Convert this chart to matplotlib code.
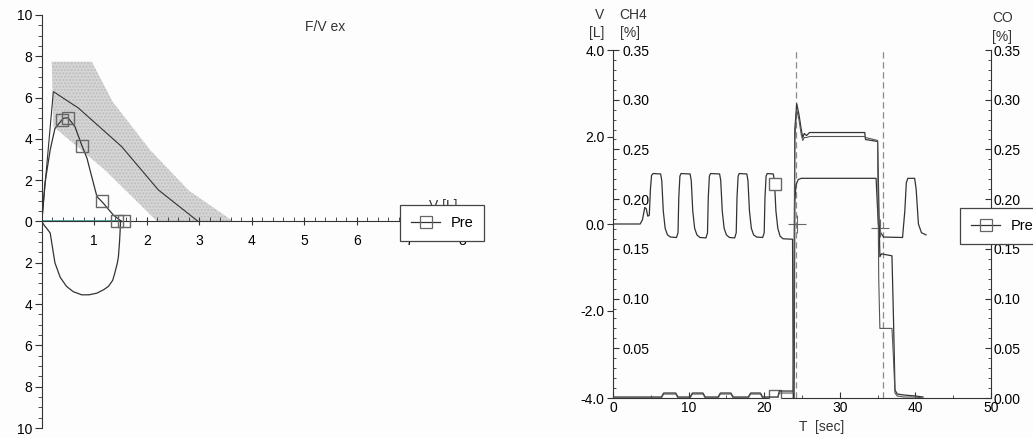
import matplotlib
matplotlib.use('Agg')
import matplotlib.pyplot as plt
from matplotlib.lines import Line2D
from matplotlib.ticker import MultipleLocator, FixedLocator

plt.rcParams['font.family'] = ['Liberation Sans', 'DejaVu Sans']
plt.rcParams['font.size'] = 10

W, H = 1033, 438
INK = '#333333'
GRAY = '#666666'

# ---- flow / volume loop (expiration up, inspiration down) ----
pred_vol = [0.0, 0.22, 0.70, 1.52, 2.22, 2.98]
pred_flow = [0.0, 6.29, 5.49, 3.63, 1.53, 0.0]

band_up_vol = [0.19, 0.95, 1.35, 2.06, 2.80, 3.65]
band_up_flow = [7.74, 7.74, 5.80, 3.47, 1.50, 0.0]
band_lo_vol = [2.20, 1.20, 0.22]
band_lo_flow = [0.0, 2.50, 4.60]

ex_vol = [0.0, 0.06, 0.16, 0.25, 0.41, 0.50, 0.63, 0.76, 0.86, 0.95, 1.05, 1.17, 1.36, 1.52]
ex_flow = [0.0, 1.86, 3.47, 4.50, 5.00, 5.02, 4.60, 3.70, 3.07, 2.18, 1.21, 0.89, 0.32, 0.0]

in_vol = [0.0, 0.05, 0.09, 0.16, 0.20, 0.25, 0.35, 0.47, 0.60, 0.76, 0.90, 1.05,
          1.18, 1.27, 1.35, 1.39, 1.44, 1.46, 1.48, 1.49, 1.50]
in_flow = [0.0, -0.20, -0.32, -0.56, -1.20, -2.00, -2.70, -3.14, -3.40, -3.55, -3.55, -3.47,
           -3.30, -3.14, -2.85, -2.50, -2.00, -1.69, -1.00, -0.56, 0.0]

sq_vol = [0.38, 0.50, 0.76, 1.14, 1.44, 1.56]
sq_flow = [4.90, 5.00, 3.68, 1.00, 0.0, 0.0]

fv_yticks = [-10, -8, -6, -4, -2, 0, 2, 4, 6, 8, 10]
fv_ylabels = ['10', '8', '6', '4', '2', '0', '2', '4', '6', '8', '10']
fv_xticks = [1, 2, 3, 4, 5, 6, 7, 8]

# ---- single breath trace ----
t_vol = [0.0, 3.6, 3.9, 4.2, 4.4, 4.6, 4.8, 4.95, 5.1, 5.3,
         6.3, 6.45, 6.65, 6.9, 7.2, 7.6, 8.4, 8.6, 8.7, 8.85, 9.0,
         10.2, 10.35, 10.55, 10.8, 11.1, 11.5, 12.3, 12.5, 12.6, 12.75, 12.9,
         14.1, 14.25, 14.45, 14.7, 15.0, 15.4, 16.1, 16.3, 16.4, 16.55, 16.7,
         17.7, 17.85, 18.05, 18.3, 18.6, 19.0, 19.8, 20.0, 20.1, 20.25, 20.4,
         21.2, 21.35, 21.55, 21.8, 22.1, 22.5, 23.75, 23.85, 23.95, 24.05, 24.2, 24.5, 24.9,
         34.8, 34.95, 35.1, 35.4, 35.8, 38.3, 38.6, 38.8, 39.0, 39.9, 40.1, 40.4, 40.8, 41.4]
vol = [0.0, 0.0, 0.10, 0.38, 0.35, 0.18, 0.20, 0.80, 1.12, 1.16,
       1.15, 1.00, 0.30, -0.10, -0.25, -0.30, -0.31, -0.20, 0.60, 1.10, 1.16,
       1.15, 1.00, 0.30, -0.10, -0.25, -0.31, -0.32, -0.20, 0.60, 1.10, 1.16,
       1.15, 1.00, 0.30, -0.10, -0.25, -0.31, -0.32, -0.20, 0.60, 1.10, 1.16,
       1.15, 1.00, 0.30, -0.10, -0.25, -0.30, -0.31, -0.20, 0.60, 1.10, 1.16,
       1.15, 1.00, 0.30, -0.10, -0.28, -0.34, -0.35, -4.30, -4.30, 0.50, 0.90, 1.02, 1.05,
       1.05, 0.50, 0.0, -0.20, -0.30, -0.31, 0.30, 0.95, 1.05, 1.05, 0.80, 0.0, -0.20, -0.25]

t_gas = [0.0, 6.4, 6.7, 8.3, 8.6, 10.2, 10.5, 11.9, 12.2, 13.9, 14.2, 15.6, 15.9,
         17.9, 18.2, 19.5, 19.8, 21.8, 22.0, 23.85, 23.95, 24.05, 24.3, 24.6, 24.9, 25.1, 25.3,
         25.6, 26.0, 33.3, 33.4, 35.0, 35.15, 35.3, 35.5, 36.9, 37.1, 37.3, 37.6, 38.5, 40.0, 41.0]
ch4 = [0.001, 0.001, 0.005, 0.005, 0.001, 0.001, 0.005, 0.005, 0.001, 0.001, 0.005, 0.005, 0.001,
       0.001, 0.005, 0.005, 0.001, 0.001, 0.007, 0.007, 0.10, 0.27, 0.296, 0.285, 0.270, 0.262, 0.266,
       0.264, 0.267, 0.267, 0.260, 0.258, 0.20, 0.142, 0.145, 0.143, 0.08, 0.008, 0.004, 0.003, 0.002, 0.001]
co = [0.0, 0.0, 0.004, 0.004, 0.0, 0.0, 0.004, 0.004, 0.0, 0.0, 0.004, 0.004, 0.0,
      0.0, 0.004, 0.004, 0.0, 0.0, 0.005, 0.005, 0.09, 0.26, 0.290, 0.280, 0.265, 0.259, 0.262,
      0.262, 0.263, 0.263, 0.262, 0.259, 0.12, 0.070, 0.070, 0.070, 0.04, 0.005, 0.002, 0.001, 0.001, 0.0]

breath_marks = [24.25, 35.7]
plus_t = [24.3, 35.3]
plus_v = [0.0, -0.1]
pre_t = [21.4, 21.4]
pre_v = [0.92, -3.95]

v_ticks = [-4.0, -2.0, 0.0, 2.0, 4.0]
ch4_ticks = [0.05, 0.10, 0.15, 0.20, 0.25, 0.30, 0.35]
co_ticks = [0.0, 0.05, 0.10, 0.15, 0.20, 0.25, 0.30, 0.35]


def fx(px):
    return px / W


def fy(py):
    return 1 - py / H


def pre_legend(fig, px, py):
    handle = Line2D([], [], color=INK, lw=0.9, marker='s', ms=8, mfc='none', mec=GRAY, mew=0.9)
    leg = fig.legend([handle], ['Pre'], loc='upper left', bbox_to_anchor=(fx(px), fy(py)),
                     borderaxespad=0, frameon=True, fancybox=False, framealpha=1,
                     edgecolor='#444444', handlelength=2.0, borderpad=0.75,
                     handletextpad=0.7, fontsize=10.5)
    leg.get_frame().set_linewidth(0.9)
    leg.set_zorder(10)
    return leg


def draw_flow_volume(fig):
    ax = fig.add_axes([fx(41.8), fy(428), 420 / W, 413 / H])
    ax.set_xlim(0, 8)
    ax.set_ylim(-10, 10)
    ax.set_facecolor('none')

    band_v = band_up_vol + band_lo_vol
    band_f = band_up_flow + band_lo_flow
    ax.fill(band_v, band_f, color='#d6d6d6', lw=0, zorder=1)
    ax.fill(band_v, band_f, facecolor='none', hatch='.....', edgecolor='#bdbdbd', lw=0, zorder=1)

    ax.plot([0, 1.5], [0, 0], color='#3a9a9a', lw=1.2, zorder=2)
    ax.plot(pred_vol, pred_flow, color=INK, lw=0.8, zorder=3)
    ax.plot(ex_vol, ex_flow, color=INK, lw=0.9, zorder=3)
    ax.plot(in_vol, in_flow, color=INK, lw=0.9, zorder=3)
    ax.plot(sq_vol, sq_flow, ls='none', marker='s', ms=8.5, mfc='none', mec=GRAY, mew=1.0, zorder=4)

    ax.spines['top'].set_visible(False)
    ax.spines['right'].set_visible(False)
    ax.spines['bottom'].set_position(('data', 0))
    ax.spines['left'].set_color(INK)
    ax.spines['bottom'].set_color(INK)

    ax.set_yticks(fv_yticks)
    ax.set_yticklabels(fv_ylabels)
    ax.yaxis.set_minor_locator(MultipleLocator(0.5))
    ax.set_xticks(fv_xticks)
    ax.xaxis.set_minor_locator(MultipleLocator(0.2))
    ax.tick_params(axis='y', which='major', direction='out', length=5, color=INK, labelsize=10, pad=2)
    ax.tick_params(axis='y', which='minor', direction='out', length=3, color=INK)
    ax.tick_params(axis='x', which='major', direction='inout', length=6, color=INK, labelsize=10, pad=6)
    ax.tick_params(axis='x', which='minor', direction='in', length=3, color=INK)

    # axis name sits behind the legend box
    ax.text(7.64, 0.75, 'V [L]', ha='center', va='center', fontsize=10, color=INK, zorder=2)
    fig.text(fx(325), fy(27), 'F/V ex', ha='center', va='center', fontsize=10, color=INK)

    pre_legend(fig, 400, 205)


def draw_breath(fig):
    left, right, top, bottom = 613, 991, 50, 398
    axv = fig.add_axes([fx(left), fy(bottom), (right - left) / W, (bottom - top) / H])
    axv.set_xlim(0, 50)
    axv.set_ylim(-4, 4)
    axv.set_facecolor('none')

    axg = axv.twinx()
    axg.set_ylim(0, 0.35)
    axc = axv.twinx()
    axc.set_ylim(0, 0.35)

    for t in breath_marks:
        axv.axvline(t, ymax=1.0, color='#8a8a8a', lw=0.9, ls=(0, (5, 3)), zorder=1)
    axv.plot(t_vol, vol, color=INK, lw=0.9, zorder=3)
    axv.plot(plus_t, plus_v, ls='none', marker='+', ms=13, mew=0.8, color=GRAY, zorder=4)
    axv.plot(pre_t, pre_v, ls='none', marker='s', ms=8.5, mfc='white', mec=GRAY, mew=1.0, zorder=5)
    axg.plot(t_gas, ch4, color=INK, lw=0.9)
    axg.plot(t_gas, co, color='#555555', lw=0.8)

    for a in (axv, axg, axc):
        for s in a.spines.values():
            s.set_visible(False)
            s.set_color(INK)
    axv.spines['left'].set_visible(True)
    axv.spines['bottom'].set_visible(True)
    axg.spines['right'].set_visible(True)

    axv.yaxis.set_major_locator(FixedLocator(v_ticks))
    axv.set_yticklabels(['%.1f' % v for v in v_ticks])
    axv.tick_params(axis='y', direction='out', length=4, color=INK, labelsize=10, pad=2)
    axv.xaxis.set_major_locator(MultipleLocator(10))
    axv.xaxis.set_minor_locator(MultipleLocator(5))
    axv.tick_params(axis='x', which='major', direction='in', length=4, color=INK, labelsize=10, pad=2)
    axv.tick_params(axis='x', which='minor', direction='in', length=2.5, color=INK)

    # CH4 scale shares the left spine, labels sit on its inner side
    axc.yaxis.tick_left()
    axc.yaxis.set_major_locator(FixedLocator(ch4_ticks))
    axc.set_yticklabels(['%.2f' % v for v in ch4_ticks])
    axc.yaxis.set_minor_locator(MultipleLocator(0.01))
    axc.tick_params(axis='y', which='major', direction='in', length=4, color=INK, labelsize=10, pad=-7)
    axc.tick_params(axis='y', which='minor', direction='in', length=2.5, color=INK)
    for lab in axc.get_yticklabels():
        lab.set_horizontalalignment('left')

    axg.yaxis.set_major_locator(FixedLocator(co_ticks))
    axg.set_yticklabels(['%.2f' % v for v in co_ticks])
    axg.yaxis.set_minor_locator(MultipleLocator(0.01))
    axg.tick_params(axis='y', which='major', direction='in', length=4, color=INK, labelsize=10, pad=2)
    axg.tick_params(axis='y', which='minor', direction='in', length=2.5, color=INK)

    fig.text(fx(600), fy(15), 'V', ha='center', va='center', fontsize=10, color=INK)
    fig.text(fx(597), fy(33), '[L]', ha='center', va='center', fontsize=10, color=INK)
    fig.text(fx(633), fy(15), 'CH4', ha='center', va='center', fontsize=10, color=INK)
    fig.text(fx(630), fy(33), '[%]', ha='center', va='center', fontsize=10, color=INK)
    fig.text(fx(1003), fy(18), 'CO', ha='center', va='center', fontsize=10, color=INK)
    fig.text(fx(1002), fy(37), '[%]', ha='center', va='center', fontsize=10, color=INK)
    fig.text(fx(822), fy(427), 'T  [sec]', ha='center', va='center', fontsize=10, color=INK)

    pre_legend(fig, 960, 208)


fig = plt.figure(figsize=(W / 100, H / 100), dpi=100, facecolor='#fdfdfd')
draw_flow_volume(fig)
draw_breath(fig)
fig.savefig('out.png', dpi=100, facecolor=fig.get_facecolor())
